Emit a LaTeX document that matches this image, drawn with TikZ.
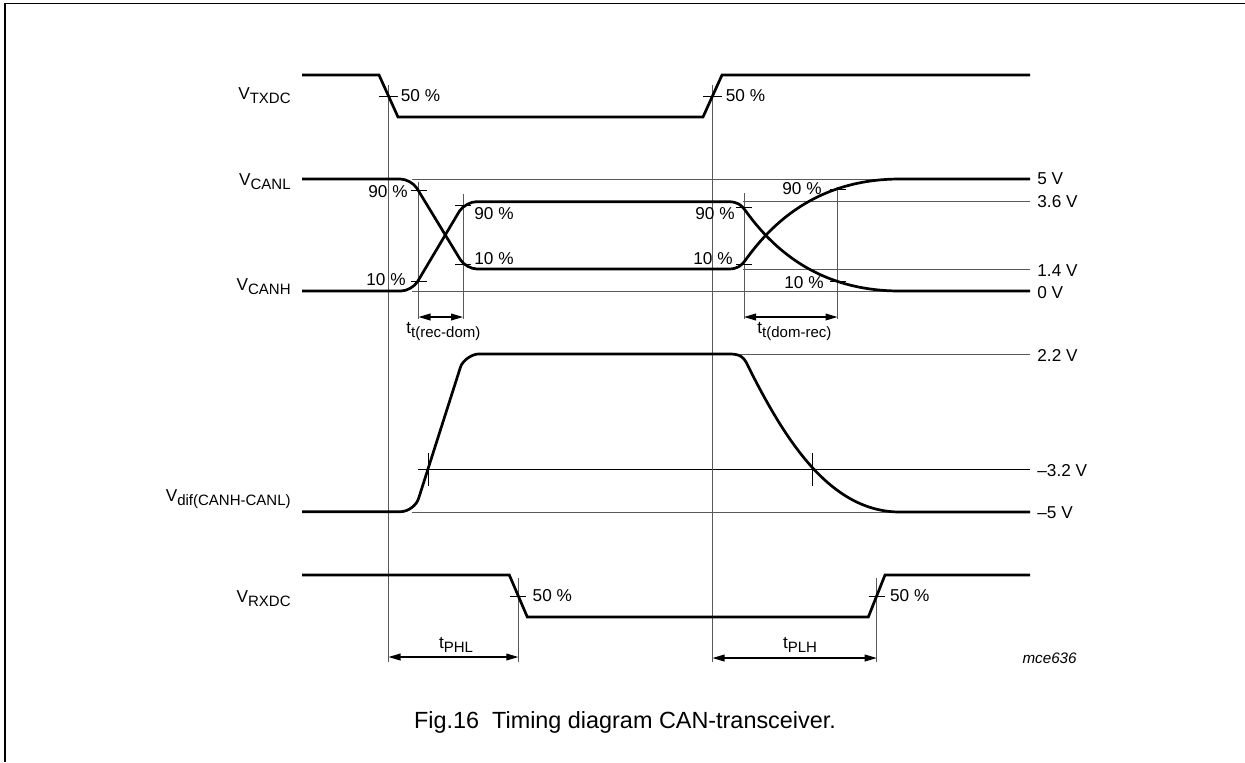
\documentclass[tikz,border=0pt]{standalone}
\usepackage{fontspec}
\setmainfont{Liberation Sans}
\usetikzlibrary{positioning,arrows.meta}
\newcommand\lsub[1]{\raisebox{-2pt}{\fontsize{7.5}{8}\selectfont #1}}
\tikzset{
  signal/.style={line width=1.35pt},
  guide/.style={line width=0.5pt, black!65},
  tickmark/.style={line width=0.5pt},
  lbl/.style={inner sep=0pt, font=\fontsize{8.6}{10}\selectfont},
  dim/.style={line width=0.6pt, {Triangle[length=6pt,width=3.4pt]}-{Triangle[length=6pt,width=3.4pt]}}
}

\begin{document}
\begin{tikzpicture}[x=0.5pt,y=-0.5pt]
            \useasboundingbox (0,0) rectangle (1245,762);
            \draw[line width=0.85pt] (5,762) -- (5,3.5) -- (1245,3.5);

            \coordinate (tx1) at (388.5,96);
            \coordinate (tx2) at (712.5,96);
            \coordinate (rx1) at (518.3,596);
            \coordinate (rx2) at (876.7,596);
            \coordinate (l90) at (418.5,190);
            \coordinate (l10) at (418.5,281.5);
            \coordinate (h90) at (463,205.5);
            \coordinate (h10) at (463,264.5);
            \coordinate (r90) at (744,207);
            \coordinate (r10) at (744,264);
            \coordinate (s90) at (837.5,189);
            \coordinate (s10) at (837.5,281);
            \coordinate (d1) at (428.3,469.3);
            \coordinate (d2) at (812,469.3);

            \draw[guide] (412,179) -- (1030,179);
            \draw[guide] (743,201.7) -- (1030,201.7);
            \draw[guide] (743,269) -- (1030,269);
            \draw[guide] (412,291) -- (1030,291);
            \draw[guide] (740,354.5) -- (1030,354.5);
            \draw[guide, black] (418,469.3) -- (1030,469.3);
            \draw[guide] (412,512) -- (1030,512);

            \draw[guide] (tx1) ++(0,-11) coordinate (tx1t) -- (tx1 |- 0,662) coordinate (tx1b);
            \draw[guide] (tx2) ++(0,-11) coordinate (tx2t) -- (tx2 |- 0,662) coordinate (tx2b);
            \draw[guide] (l90) ++(0,-8) -- (l90 |- 0,319) coordinate (l90b);
            \draw[guide] (h90) ++(0,-12) -- (h90 |- 0,319) coordinate (h90b);
            \draw[guide] (r90) ++(0,-14) -- (r90 |- 0,319) coordinate (r90b);
            \draw[guide] (s90) ++(0,-2) -- (s90 |- 0,319) coordinate (s90b);
            \draw[guide] (rx1) ++(0,-18) -- (rx1 |- 0,662) coordinate (rx1b);
            \draw[guide] (rx2) ++(0,-18) -- (rx2 |- 0,662) coordinate (rx2b);

            \draw[signal] (302,75) -- (379,75) -- (398,117) -- (703,117) -- (722,75) -- (1030,75);
            \draw[signal] (302,179) -- (400.3,179) .. controls (406.3,179) and (413.9,183.3) .. (417,188.4)
                -- (460.3,259.6) .. controls (463.4,264.7) and (471,269) .. (477,269) -- (728,269)
                .. controls (738,269) and (741,265.7) .. (745,260.7)
                .. controls (770,225.7) and (815,179) .. (900,179) -- (1030,179);
            \draw[signal] (302,291) -- (401,291) .. controls (407,291) and (414.6,286.6) .. (417.6,281.5)
                -- (459.4,211.2) .. controls (462.5,206) and (471,201.7) .. (476,201.7) -- (728,201.7)
                .. controls (738,201.7) and (741,205) .. (745,210)
                .. controls (770,245) and (815,291) .. (900,291) -- (1030,291);
            \draw[signal] (302,511.7) -- (400.4,511.7) .. controls (408,511.7) and (416.3,505.7) .. (418.6,498.4)
                -- (460.4,367.3) .. controls (462.7,360) and (472.3,354) .. (478.6,354) -- (730,354)
                .. controls (740,354) and (744,357) .. (748,366)
                .. controls (785,440) and (830,512) .. (900,512) -- (1030,512);
            \draw[signal] (302,575) -- (509.3,575) -- (527.3,617) -- (868.3,617) -- (885,575) -- (1030,575);

            \foreach \p in {tx1,tx2} \draw[tickmark] (\p) +(-9.5,0) -- +(9.5,0);
            \foreach \p in {rx1,rx2} \draw[tickmark] (\p) +(-8,0) -- +(8,0);
            \foreach \p in {l90,l10,h90,h10,r90,r10,s90,s10} \draw[tickmark] (\p) +(-8,0) -- +(8,0);
            \foreach \p in {d1,d2} \draw[tickmark] (\p) +(0,-16) -- +(0,17);

            \draw[dim] (tx1b |- 0,657) -- (rx1b |- 0,657);
            \draw[dim] (tx2b |- 0,658) -- (rx2b |- 0,658);
            \draw[dim] (l90b |- 0,317) -- (h90b |- 0,317);
            \draw[dim] (r90b |- 0,317) -- (s90b |- 0,317);

            \node[lbl, right=6pt of tx1] (ptx1) {50 \%};
            \node[lbl, right=6.5pt of tx2] (ptx2) {50 \%};
            \node[lbl, right=7pt of rx1] (prx1) {50 \%};
            \node[lbl, right=6.5pt of rx2] (prx2) {50 \%};

            \node[lbl, anchor=east] (pl90) at (408,191.5) {90 \%};
            \node[lbl, anchor=east] (pl10) at (406,280) {10 \%};
            \node[lbl, anchor=west] (ph90) at (474,214) {90 \%};
            \node[lbl, anchor=west] (ph10) at (474,259) {10 \%};
            \node[lbl, anchor=east] (pr90) at (735,214) {90 \%};
            \node[lbl, anchor=east] (pr10) at (733,259) {10 \%};
            \node[lbl, anchor=east] (ps90) at (822,189) {90 \%};
            \node[lbl, anchor=east] (ps10) at (824,283) {10 \%};

            \node[lbl, anchor=base east] (vtx) at (291,99) {V\lsub{TXDC}};
            \node[lbl, anchor=base east] (vcl) at (291,185) {V\lsub{CANL}};
            \node[lbl, anchor=base east] (vch) at (291,290) {V\lsub{CANH}};
            \node[lbl, anchor=base east] (vdf) at (291,501) {V\lsub{dif(CANH-CANL)}};
            \node[lbl, anchor=base east] (vrx) at (291,602) {V\lsub{RXDC}};

            \foreach \lvl/\txt [count=\i] in {179/5 V, 202/3.6 V, 270.5/1.4 V, 292.5/0 V, 355/2.2 V, 470.5/--3.2 V, 512.3/--5 V}
                \node[lbl, anchor=west] (lv\i) at (1037,\lvl) {\txt};

            \node[lbl, anchor=base west] (ttrd) at (406,333) {t\lsub{t(rec-dom)}};
            \node[lbl, anchor=base west] (ttdr) at (757,333) {t\lsub{t(dom-rec)}};
            \node[lbl, anchor=base] (tphl) at (456,648) {t\lsub{PHL}};
            \node[lbl, anchor=base] (tplh) at (800,648) {t\lsub{PLH}};

            \node[inner sep=0pt, anchor=east, font=\fontsize{7.6}{9}\selectfont\itshape] (code) at (1077,658) {mce636};
            \node[inner sep=0pt, anchor=base, font=\fontsize{11.7}{14}\selectfont] (cap) at (625,728) {Fig.16\ \ Timing diagram CAN-transceiver.};
\end{tikzpicture}
\end{document}
